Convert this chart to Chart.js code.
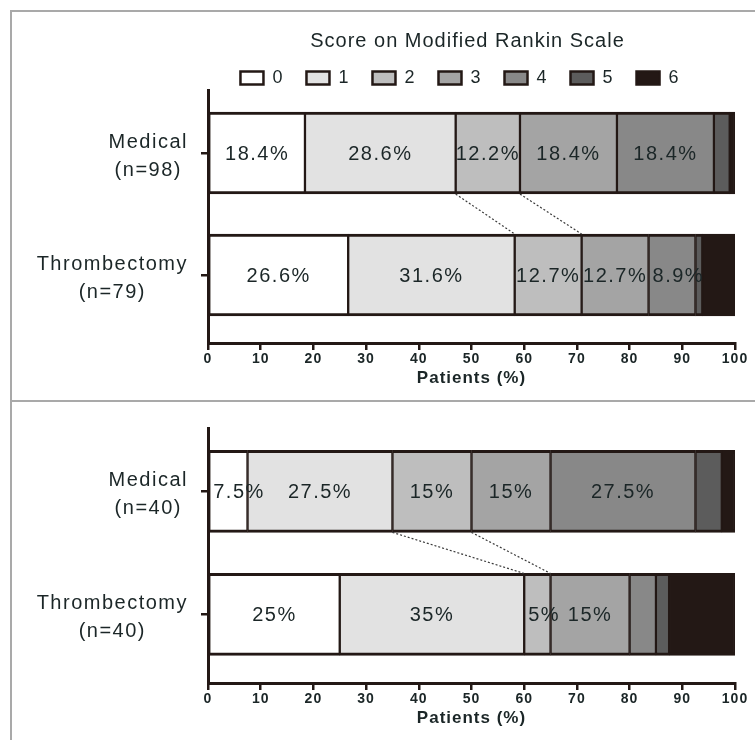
<!DOCTYPE html>
<html>
<head>
<meta charset="utf-8">
<script src="https://cdn.jsdelivr.net/npm/chart.js@4.4.0/dist/chart.umd.min.js"></script>
<style>
  body { margin: 0; background: #fff; }
  #wrap { position: relative; width: 755px; height: 740px; overflow: hidden; }
  canvas { position: absolute; left: 0; }
  #c1 { top: 0; }
  #c2 { top: 400px; }
  .rule { position: absolute; background: #a9a9a9; }
</style>
</head>
<body>
<div id="wrap">
  <div class="rule" style="left:10px;top:10px;width:745px;height:2px"></div>
  <div class="rule" style="left:10px;top:10px;width:2px;height:730px"></div>
  <div class="rule" style="left:10px;top:400px;width:745px;height:2px"></div>
  <canvas id="c1" width="755" height="400"></canvas>
  <canvas id="c2" width="755" height="340"></canvas>
</div>
<script>
// mRS scores (legend)
const scores = ['0', '1', '2', '3', '4', '5', '6'];

// upper trial
const topGroups = [['Medical', '(n=98)'], ['Thrombectomy', '(n=79)']];
const topMedical = [18.4, 28.6, 12.2, 18.4, 18.4, 3.0, 1.0];
const topThrombectomy = [26.6, 31.6, 12.7, 12.7, 8.9, 1.3, 6.3];
const topLabelled = [[0, 1, 2, 3, 4], [0, 1, 2, 3, 4]];

// lower trial
const bottomGroups = [['Medical', '(n=40)'], ['Thrombectomy', '(n=40)']];
const bottomMedical = [7.5, 27.5, 15, 15, 27.5, 5, 2.5];
const bottomThrombectomy = [25, 35, 5, 15, 5, 2.5, 12.5];
const bottomLabelled = [[0, 1, 2, 3, 4], [0, 1, 2, 3]];

// score boundaries joined by the dotted lines
const linkedScores = [1, 2];

const SANS = "'Liberation Sans', Arial, sans-serif";
const INK = '#1b2627';
const EDGE = '#231815';
const fills = ['#ffffff', '#e2e2e2', '#bebebe', '#a4a4a4', '#888888', '#5c5c5c', '#231815'];

function makePanel(canvasId, groups, medical, thrombectomy, labelled, withHeader) {
  const rows = [medical, thrombectomy];

  const annotate = {
    id: 'annotate',
    beforeDraw(chart) {
      chart.ctx.letterSpacing = '1px';
    },
    afterLayout(chart) {
      if (!withHeader) return;
      const area = chart.chartArea;
      const t = chart.titleBlock, l = chart.legend;
      if (t) {
        t.left = area.left - 8; t.right = area.right;
        t.top = 29.6; t.bottom = t.top + t.height;
      }
      if (l) {
        l.left = area.left - 30; l.right = area.right;
        l.top = 46; l.bottom = l.top + l.height;
      }
    },
    afterDatasetsDraw(chart) {
      const ctx = chart.ctx;
      ctx.save();

      // dotted links between the two bars
      ctx.setLineDash([2, 2]);
      ctx.lineWidth = 1.2;
      ctx.strokeStyle = '#3a3a3a';
      linkedScores.forEach(k => {
        const a = chart.getDatasetMeta(k).data[0];
        const b = chart.getDatasetMeta(k).data[1];
        ctx.beginPath();
        ctx.moveTo(a.x, a.y + a.height / 2);
        ctx.lineTo(b.x, b.y - b.height / 2);
        ctx.stroke();
      });
      ctx.setLineDash([]);

      // percent labels inside segments (too-narrow ones start at the segment)
      ctx.font = '20px ' + SANS;
      ctx.letterSpacing = '1.5px';
      ctx.fillStyle = INK;
      ctx.textAlign = 'center';
      ctx.textBaseline = 'middle';
      rows.forEach((vals, j) => {
        labelled[j].forEach(i => {
          const el = chart.getDatasetMeta(i).data[j];
          const txt = vals[i] + '%';
          const w = ctx.measureText(txt).width;
          const seg = el.x - el.base;
          const cx = w > seg + 3 ? el.base + 4 + w / 2 : (el.x + el.base) / 2;
          ctx.fillText(txt, cx, el.y + 1);
        });
      });

      // group names, lines centred in a right-aligned block
      const yScale = chart.scales.y;
      groups.forEach((lines, j) => {
        const py = yScale.getPixelForValue(j);
        const w = Math.max(...lines.map(s => ctx.measureText(s).width));
        const cx = yScale.right - 20 - w / 2;
        ctx.fillText(lines[0], cx, py - 11);
        ctx.fillText(lines[1], cx, py + 17);
      });
      ctx.restore();
    }
  };

  return new Chart(document.getElementById(canvasId), {
    type: 'bar',
    data: {
      datasets: scores.map((s, i) => ({
        label: s,
        data: [{ x: medical[i], y: 0 }, { x: thrombectomy[i], y: 1 }],
        backgroundColor: fills[i],
        borderColor: EDGE,
        borderWidth: { top: 3, bottom: 3, left: 1.5, right: 1.5 },
        borderSkipped: false,
        barThickness: 82
      }))
    },
    options: {
      indexAxis: 'y',
      responsive: false,
      animation: false,
      layout: {
        padding: { top: withHeader ? 15.2 : 28, left: 0, right: 20, bottom: 0 }
      },
      plugins: {
        tooltip: { enabled: false },
        title: {
          display: withHeader,
          text: 'Score on Modified Rankin Scale',
          color: INK,
          font: { family: SANS, size: 20, weight: 'normal' },
          padding: 0
        },
        legend: {
          display: withHeader,
          position: 'top',
          labels: {
            boxWidth: 23,
            boxHeight: 13,
            padding: 23,
            color: INK,
            font: { family: SANS, size: 18 },
            generateLabels: chart => chart.data.datasets.map((ds, i) => ({
              text: ds.label,
              fillStyle: ds.backgroundColor,
              strokeStyle: EDGE,
              lineWidth: 2.5,
              fontColor: INK,
              hidden: false,
              datasetIndex: i
            }))
          }
        }
      },
      scales: {
        x: {
          type: 'linear',
          stacked: true,
          min: 0,
          max: 100,
          ticks: {
            stepSize: 10,
            color: INK,
            padding: 1,
            font: { family: SANS, size: 14, weight: 'bold' }
          },
          grid: {
            drawOnChartArea: false,
            tickLength: 7,
            color: EDGE,
            lineWidth: 2.5
          },
          border: { display: true, color: EDGE, width: 3 },
          title: {
            display: true,
            text: 'Patients (%)',
            color: INK,
            font: { family: SANS, size: 17, weight: 'bold' },
            padding: { top: 0, bottom: 11 }
          },
          afterFit: s => { s.height = 57; }
        },
        y: {
          type: 'linear',
          stacked: true,
          reverse: true,
          offset: false,
          min: -0.515,
          max: 1.557,
          ticks: { display: false },
          afterBuildTicks: s => { s.ticks = [{ value: 0 }, { value: 1 }]; },
          grid: {
            offset: false,
            drawOnChartArea: false,
            tickLength: 7,
            color: EDGE,
            lineWidth: 2.5
          },
          border: { display: true, color: EDGE, width: 3 },
          afterFit: s => { s.width = 208; }
        }
      }
    },
    plugins: [annotate]
  });
}

makePanel('c1', topGroups, topMedical, topThrombectomy, topLabelled, true);
makePanel('c2', bottomGroups, bottomMedical, bottomThrombectomy, bottomLabelled, false);
</script>
</body>
</html>
